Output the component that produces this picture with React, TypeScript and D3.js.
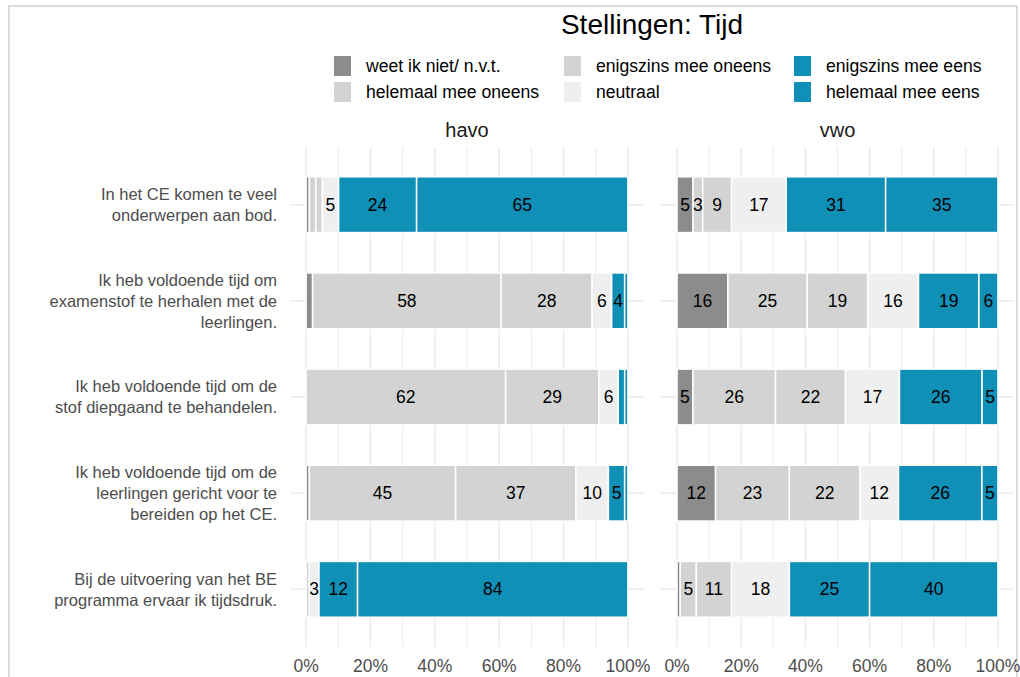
import * as d3 from "d3";
import React from "react";

const categories = [
  "In het CE komen te veel\nonderwerpen aan bod.",
  "Ik heb voldoende tijd om\nexamenstof te herhalen met de\nleerlingen.",
  "Ik heb voldoende tijd om de\nstof diepgaand te behandelen.",
  "Ik heb voldoende tijd om de\nleerlingen gericht voor te\nbereiden op het CE.",
  "Bij de uitvoering van het BE\nprogramma ervaar ik tijdsdruk.",
];
const responses = [
  "weet ik niet/ n.v.t.",
  "helemaal mee oneens",
  "enigszins mee oneens",
  "neutraal",
  "enigszins mee eens",
  "helemaal mee eens",
];
const colors = ["#8c8c8c", "#d3d3d3", "#d3d3d3", "#efefef", "#108fb7", "#108fb7"];
const panels = ["havo", "vwo"];
// percentages per statement, in response order
const havo = [
  [1, 2, 2, 5, 24, 65],
  [2, 58, 28, 6, 4, 1],
  [0, 62, 29, 6, 2, 1],
  [1, 45, 37, 10, 5, 1],
  [0, 1, 0, 3, 12, 84],
];
const vwo = [
  [5, 3, 9, 17, 31, 35],
  [16, 25, 19, 16, 19, 6],
  [5, 26, 22, 17, 26, 5],
  [12, 23, 22, 12, 26, 5],
  [1, 5, 11, 18, 25, 40],
];
const tickValues = [0, 0.2, 0.4, 0.6, 0.8, 1];
const minorTicks = [0.1, 0.3, 0.5, 0.7, 0.9];

const FONT = "'Liberation Sans', Arial, sans-serif";
const W = 1020;
const H = 677;
const panelX = [[290, 644], [661, 1014]];
const top = 147;
const bottom = 647;

function Panel({ name, values, x0, x1 }) {
  const rows = values.map((v, i) => {
    const o = { cat: categories[i] };
    responses.forEach((r, j) => (o[r] = v[j]));
    return o;
  });
  const series = d3.stack().keys(responses).offset(d3.stackOffsetExpand)(rows);
  const pad = (x1 - x0) * 0.05 / 1.1;
  const x = d3.scaleLinear().domain([0, 1]).range([x0 + pad, x1 - pad]);
  const y = d3.scalePoint().domain(categories).range([top, bottom]).padding(0.6);
  const bh = y.step() * 0.58;
  const fmt = d3.format(".0%");

  return (
    <g>
      {y.domain().map((c) => (
        <line key={c} x1={x0} x2={x1} y1={y(c)} y2={y(c)} stroke="#ebebeb" strokeWidth={1.5} />
      ))}
      {minorTicks.map((t) => (
        <line key={t} x1={x(t)} x2={x(t)} y1={top} y2={bottom} stroke="#ebebeb" strokeWidth={1} />
      ))}
      {tickValues.map((t) => (
        <line key={t} x1={x(t)} x2={x(t)} y1={top} y2={bottom} stroke="#ebebeb" strokeWidth={1.5} />
      ))}
      {series.map((s, j) =>
        s.map((d, i) => (
          <rect
            key={j + "-" + i}
            x={x(d[0])}
            y={y(categories[i]) - bh / 2}
            width={Math.max(0, x(d[1]) - x(d[0]))}
            height={bh}
            fill={colors[j]}
            stroke="white"
            strokeWidth={1.5}
          />
        ))
      )}
      {series.map((s, j) =>
        s.map((d, i) =>
          values[i][j] >= 3 ? (
            <text
              key={"t" + j + "-" + i}
              x={(x(d[0]) + x(d[1])) / 2}
              y={y(categories[i])}
              dy="0.35em"
              textAnchor="middle"
              fontSize={17.5}
              fill="#000"
            >
              {values[i][j]}
            </text>
          ) : null
        )
      )}
      {tickValues.map((t) => (
        <text key={"x" + t} x={x(t)} y={672} textAnchor="middle" fontSize={17.5} fill="#4d4d4d">
          {fmt(t)}
        </text>
      ))}
      <text x={(x0 + x1) / 2} y={137} textAnchor="middle" fontSize={20} fill="#1a1a1a">
        {name}
      </text>
    </g>
  );
}

export default function App() {
  const y = d3.scalePoint().domain(categories).range([top, bottom]).padding(0.6);
  const legendCols = [366, 596, 826];
  const legendRows = [66, 92];

  return (
    <svg
      width={W}
      height={H}
      style={{ position: "absolute", left: 0, top: 0, background: "white" }}
      fontFamily={FONT}
    >
      <rect x={9} y={6} width={1008} height={700} fill="none" stroke="#dcdcdc" strokeWidth={2} />
      <text x={(panelX[0][0] + panelX[1][1]) / 2} y={34} textAnchor="middle" fontSize={28} fill="#000">
        Stellingen: Tijd
      </text>
      {responses.map((r, i) => {
        const col = Math.floor(i / 2);
        const row = i % 2;
        return (
          <g key={r}>
            <rect x={legendCols[col] - 32} y={legendRows[row] - 10} width={17} height={20} fill={colors[i]} />
            <text x={legendCols[col]} y={legendRows[row]} dy="0.35em" fontSize={17.6} fill="#000">
              {r}
            </text>
          </g>
        );
      })}
      {categories.map((c) => {
        const lines = c.split("\n");
        const lh = 21;
        return (
          <text key={c} textAnchor="end" fontSize={16.5} fill="#4d4d4d">
            {lines.map((l, k) => (
              <tspan key={k} x={277} y={y(c) + (k - (lines.length - 1) / 2) * lh} dy="0.35em">
                {l}
              </tspan>
            ))}
          </text>
        );
      })}
      <Panel name={panels[0]} values={havo} x0={panelX[0][0]} x1={panelX[0][1]} />
      <Panel name={panels[1]} values={vwo} x0={panelX[1][0]} x1={panelX[1][1]} />
    </svg>
  );
}
